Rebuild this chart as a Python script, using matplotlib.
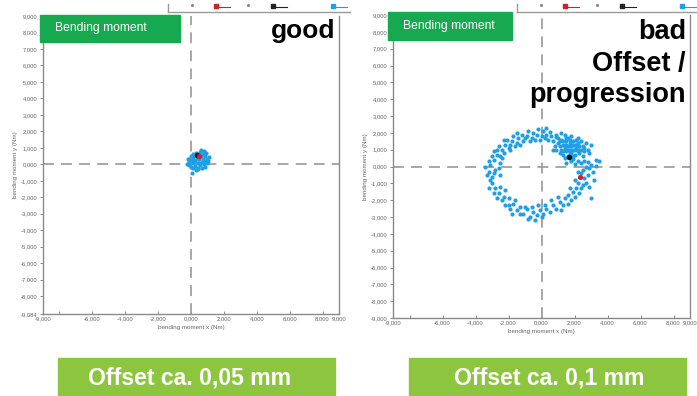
import matplotlib.pyplot as plt
from matplotlib.patches import Rectangle
from matplotlib.lines import Line2D

plt.rcParams['font.family'] = ['Liberation Sans', 'DejaVu Sans']

W, H = 697, 396

# ---- data (bending moment x / y) ----
x_ticks = [-9, -8, -6, -4, -2, 0, 2, 4, 6, 8, 9]
x_tick_labels = ['-9,000', '', '-6,000', '-4,000', '-2,000', '0,000',
                 '2,000', '4,000', '6,000', '8,000', '9,000']
y_ticks_good = [9, 8, 7, 6, 5, 4, 3, 2, 1, 0, -1, -2, -3, -4, -5, -6, -7, -8, -9.084]
y_ticks_bad = [9, 8, 7, 6, 5, 4, 3, 2, 1, 0, -1, -2, -3, -4, -5, -6, -7, -8, -9]

# good: small blob around the origin
good_pts = [(-0.15, 0.15), (-0.1, 0.35), (-0.1, -0.05), (0.0, 0.5), (0.0, 0.2), (0.0, -0.15),
            (0.1, 0.65), (0.1, 0.35), (0.1, 0.05), (0.15, -0.2), (0.2, 0.5), (0.25, 0.2),
            (0.25, -0.1), (0.3, 0.7), (0.35, 0.4), (0.4, 0.05), (0.4, -0.2), (0.45, 0.6),
            (0.5, 0.3), (0.55, -0.05), (0.55, 0.75), (0.6, 0.5), (0.65, 0.15), (0.65, -0.2),
            (0.7, 0.65), (0.75, 0.35), (0.8, 0.0), (0.85, 0.5), (0.9, 0.2), (0.95, 0.35),
            (1.0, 0.05), (0.85, -0.15), (0.9, 0.7), (0.05, -0.55), (0.15, 0.15), (0.5, 0.1),
            (0.35, 0.55), (0.7, 0.15), (0.6, 0.85), (-0.2, 0.3), (1.05, 0.2), (0.45, -0.3),
            (1.1, 0.45), (-0.25, 0.0), (0.3, -0.35), (0.8, 0.8)]
good_black = (0.36, 0.55)
good_red = (0.48, 0.52)

# bad: ring with an offset cluster
ring_top = [(-3.2, -0.3), (-3.0, -0.6), (-3.1, 0.1), (-2.9, 0.4), (-3.2, 0.3), (-2.8, -0.2),
            (-2.7, 0.7), (-2.9, 0.9), (-2.5, 0.6), (-2.4, 1.0), (-2.6, 1.2), (-2.2, 1.3),
            (-2.0, 1.1), (-2.1, 1.6), (-1.8, 1.5), (-1.7, 1.8), (-1.5, 1.4), (-1.4, 1.7),
            (-1.2, 1.9), (-1.1, 1.5), (-0.9, 1.8), (-0.8, 2.1), (-0.6, 1.7), (-0.5, 2.0),
            (-0.3, 1.9), (-0.2, 2.2), (0.0, 1.8), (0.1, 2.1), (0.3, 1.9), (0.4, 1.6),
            (0.6, 1.8), (0.7, 1.5), (0.9, 1.9), (0.3, 2.3), (0.9, 1.75), (-1.9, 1.3),
            (-2.7, 1.0), (-3.0, 0.6), (-2.5, 0.2), (-2.6, -0.1), (-3.3, -0.5), (-2.4, 0.5),
            (-2.3, 0.8), (-1.9, 1.0), (-1.6, 1.2), (-1.3, 1.3), (-1.0, 1.7), (-0.7, 1.5),
            (-0.4, 1.6), (-0.1, 1.6), (0.2, 1.7), (0.5, 2.05), (-1.5, 2.0), (-2.3, 1.6),
            (-3.4, 0.0), (-2.5, -0.5)]
ring_bottom = [(-3.0, -1.0), (-2.8, -1.3), (-3.1, -0.8), (-2.6, -1.6), (-2.7, -1.9), (-2.4, -2.0),
               (-2.2, -2.3), (-2.0, -1.9), (-1.9, -2.5), (-1.7, -2.2), (-1.5, -2.6), (-1.3, -2.4),
               (-1.1, -2.8), (-0.9, -2.5), (-0.7, -3.0), (-0.5, -2.7), (-0.3, -2.9), (-0.1, -2.6),
               (0.1, -2.8), (-0.8, -3.1), (-2.3, -1.8), (-1.3, -2.8), (-2.9, -0.4),
               (-2.5, -1.2), (-2.2, -1.4), (-2.0, -2.3), (-1.6, -2.0), (-1.8, -2.8), (-1.0, -2.4),
               (-0.6, -2.4), (-0.2, -2.3), (0.2, -2.3), (-0.4, -3.2), (0.0, -3.0), (-2.9, -1.6),
               (-3.2, -1.3)]
ring_right = [(0.3, -2.5), (0.5, -2.7), (0.7, -2.3), (0.9, -2.5), (1.1, -2.1), (1.3, -2.3),
              (1.4, -1.9), (1.6, -1.7), (1.8, -2.0), (1.9, -1.5), (2.1, -1.3), (2.3, -1.6),
              (2.2, -1.0), (2.5, -1.1), (2.0, -0.8), (2.6, -0.7), (2.9, -1.2), (2.8, -0.5),
              (3.1, -0.3), (2.4, -0.4), (1.5, 0.2), (1.8, 0.3), (2.0, 0.15), (2.2, 0.3),
              (2.4, 0.2), (2.6, 0.35), (2.8, 0.25), (3.0, 0.1), (3.3, 0.05), (3.5, 0.3),
              (2.7, 0.0), (0.6, -2.0), (1.0, -1.8), (1.2, -2.6), (1.6, -2.2), (1.7, -1.3),
              (2.0, -1.8), (2.4, -1.3), (2.7, -1.0), (3.2, -0.8), (3.0, -1.9), (2.2, -0.3),
              (2.9, -0.1), (3.3, 0.4), (1.9, 0.45), (2.5, -0.2)]
cluster = [(0.8, 1.2), (0.9, 1.0), (1.0, 1.4), (1.1, 0.8), (1.1, 1.2), (1.2, 1.6), (1.2, 1.0),
           (1.3, 0.7), (1.3, 1.3), (1.4, 1.9), (1.4, 1.1), (1.5, 1.5), (1.5, 0.9), (1.6, 1.7),
           (1.6, 1.2), (1.6, 0.6), (1.7, 1.4), (1.7, 1.0), (1.8, 1.8), (1.8, 1.2), (1.8, 0.8),
           (1.9, 1.5), (1.9, 1.0), (2.0, 1.3), (2.0, 0.7), (2.1, 1.6), (2.1, 1.1), (2.2, 0.9),
           (2.2, 1.4), (2.3, 1.2), (2.4, 1.0), (2.4, 1.5), (2.5, 1.2), (2.6, 0.9), (1.3, 1.5),
           (1.5, 1.3), (1.7, 0.8), (1.9, 1.3), (2.0, 1.0), (2.3, 0.8), (1.0, 1.7), (1.2, 2.0),
           (2.7, 1.4), (2.8, 1.0), (3.0, 1.3), (1.4, 0.5), (2.5, 0.6), (1.1, 1.5), (1.3, 0.9),
           (1.5, 1.7), (1.7, 1.6), (1.6, 1.0), (1.9, 0.6), (2.1, 1.3), (2.3, 1.0), (2.2, 1.7),
           (2.6, 1.1), (1.8, 1.0), (1.4, 1.3), (0.7, 1.0), (2.9, 0.8)]
bad_black = (1.67, 0.57)
bad_red = (2.33, -0.63)

BLUE = '#1f9fe5'
GREEN = '#17a94f'
LIME = '#8cc63f'


def fx(px):
    return px / W


def fy(py):
    return 1 - py / H


fig = plt.figure(figsize=(W / 100, H / 100), dpi=100)


def panel(rect, pts, black, red, yticks, ylim):
    ax = fig.add_axes(rect)
    xs = [p[0] for p in pts]
    ys = [p[1] for p in pts]
    ax.scatter(xs, ys, s=9, color=BLUE, linewidths=0, zorder=3)
    ax.scatter([black[0]], [black[1]], s=16, color='#111111', linewidths=0, zorder=4)
    ax.scatter([red[0]], [red[1]], s=14, color='#d0202a', linewidths=0, zorder=4)
    ax.axhline(0, color='#a0a0a0', lw=1.3, dashes=(6, 4), zorder=2)
    ax.axvline(0, color='#a0a0a0', lw=1.3, dashes=(6, 4), zorder=2)
    ax.set_xlim(-9, 9)
    ax.set_ylim(*ylim)
    ax.set_xticks(x_ticks)
    ax.set_xticklabels(x_tick_labels)
    ax.set_yticks(yticks)
    ax.set_yticklabels([f"{v:.3f}".replace('.', ',') for v in yticks])
    ax.tick_params(axis='x', direction='in', length=2.5, width=0.6, colors='#777777',
                   labelsize=4.2, labelcolor='#666666', pad=2)
    ax.tick_params(axis='y', direction='out', length=2.5, width=0.6, colors='#777777',
                   labelsize=4.2, labelcolor='#666666', pad=1.5)
    for s in ['left', 'bottom', 'right']:
        ax.spines[s].set_color('#8a8a8a')
        ax.spines[s].set_linewidth(1.0)
    ax.spines['top'].set_visible(False)
    ax.set_xlabel('bending moment x (Nm)', fontsize=4.5, color='#666666', labelpad=2)
    ax.set_ylabel('bending moment y (Nm)', fontsize=4.5, color='#666666', labelpad=2)
    return ax


panel([fx(43), fy(314), fx(296), 298 / H], good_pts, good_black, good_red,
      y_ticks_good, (-9.084, 9))
panel([fx(393), fy(318), fx(297), 303 / H], ring_top + ring_bottom + ring_right + cluster,
      bad_black, bad_red, y_ticks_bad, (-9, 9))

# green "Bending moment" tags
for x0, x1, y0, y1 in [(40, 180, 15, 42), (388, 512, 12, 40)]:
    fig.patches.append(Rectangle((fx(x0), fy(y1)), fx(x1 - x0), (y1 - y0) / H,
                                 transform=fig.transFigure, color=GREEN, zorder=5))
    fig.text(fx(x0 + 15), fy((y0 + y1) / 2), 'Bending moment', color='white',
             fontsize=8.7, va='center', ha='left', zorder=6)

# cut-off legend strips at the top
for off, xend in [(0, 350), (349, 697)]:
    fig.lines.append(Line2D([fx(168 + off), fx(xend)], [fy(12), fy(12)],
                            transform=fig.transFigure, color='#9a9a9a', lw=1.0, zorder=5))
    fig.lines.append(Line2D([fx(168 + off), fx(168 + off)], [fy(4), fy(12)],
                            transform=fig.transFigure, color='#9a9a9a', lw=1.0, zorder=5))
    for cx, col in [(214, '#d0202a'), (271, '#222222'), (331, BLUE)]:
        fig.lines.append(Line2D([fx(cx + off), fx(cx + off + 16)], [fy(7), fy(7)],
                                transform=fig.transFigure, color=col, lw=0.8, zorder=5))
        fig.lines.append(Line2D([fx(cx + off + 2)], [fy(6)], transform=fig.transFigure,
                                marker='s', ms=2.2, color=col, lw=0, zorder=5))
    for cx in [192, 248]:
        fig.lines.append(Line2D([fx(cx + off)], [fy(5)], transform=fig.transFigure,
                                marker='o', ms=1.2, color='#888888', lw=0, zorder=5))

# verdict texts
fig.text(fx(335), fy(38), 'good', fontsize=19, fontweight='bold', ha='right', va='baseline')
for line, base in [('bad', 39), ('Offset /', 71), ('progression', 102)]:
    fig.text(fx(686), fy(base), line, fontsize=19.5, fontweight='bold',
             ha='right', va='baseline')

# bottom banners
for x0, x1, tx, label in [(58, 335, 190, 'Offset ca. 0,05 mm'),
                          (409, 686, 549, 'Offset ca. 0,1 mm')]:
    fig.patches.append(Rectangle((fx(x0), 0), fx(x1 - x0), 38 / H,
                                 transform=fig.transFigure, color=LIME, zorder=5))
    fig.text(fx(tx), fy(378), label, color='white', fontsize=16.6,
             fontweight='bold', ha='center', va='center', zorder=6)

fig.savefig('out.png', dpi=100)
